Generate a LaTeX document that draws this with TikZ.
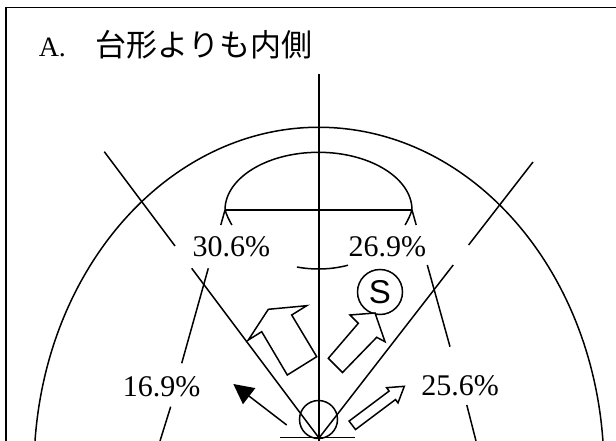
\documentclass[tikz,border=0pt]{standalone}
\usepackage{fontspec}
\setmainfont{Liberation Serif}
\newfontfamily\jpfont{Noto Sans CJK JP}
\newfontfamily\sansfont{Liberation Sans}
\usetikzlibrary{arrows.meta}
\begin{document}
\begin{tikzpicture}[x=1pt,y=-1pt,line width=1.5pt,
  pct/.style={font=\fontsize{30}{30}\selectfont, inner sep=0pt, anchor=base},
  blockarrow/.style={draw, line join=miter, fill=white}]
\useasboundingbox (0,0) rectangle (616,441);
\clip (0,0) rectangle (616,441);
% frame
\draw[line width=1.8pt] (6,445) -- (6,7.5) -- (620,7.5);
% title
\node[anchor=base west, inner sep=0pt, font=\fontsize{28}{28}\selectfont] (tA) at (38,56.7) {A.};
\node[anchor=base west, inner sep=0pt, font=\jpfont\fontsize{31}{31}\selectfont] (tJ) at (95,56.7) {台形よりも内側};
% coordinates
\coordinate (apex) at (319,438);
\coordinate (vtop) at (319,74);
\coordinate (vbot) at (319,445);
% centre line
\draw (vtop) -- (vbot);
% big ellipse
\draw (35,441) arc[start angle=184.85, end angle=355.15, x radius=285, y radius=342.7];
% dome
\coordinate (domeL) at (225,210);
\coordinate (domeR) at (412,210);
\draw (domeL) arc[start angle=180, end angle=360, x radius=93.5, y radius=57.7];
\draw (domeL) -- (domeR);
% lower (hidden) ellipse, visible pieces
\draw ([shift={(165.33:96.6 and 79)}]318.5,190) arc[start angle=165.33, end angle=153.7, x radius=96.6, y radius=79];
\draw ([shift={(14.67:96.6 and 79)}]318.5,190) arc[start angle=14.67, end angle=26.3, x radius=96.6, y radius=79];
\draw ([shift={(72.2:96.6 and 79)}]318.5,190) arc[start angle=72.2, end angle=102.9, x radius=96.6, y radius=79];
% outer label lines
\draw (domeL) -- (220.8,225);
\draw (208.3,268.3) -- (181.7,363.3);
\draw (170.7,406.7) -- (160,441);
\draw (domeR) -- (416.2,225);
\draw (427.3,265) -- (450,346.7);
\draw (466.8,405) -- (476,441);
% diagonals
\coordinate (dLtop) at (104.3,151.7);
\coordinate (dLa) at (175,246);
\coordinate (dLb) at (191.7,268.3);
\coordinate (dRtop) at (533,162);
\coordinate (dRa) at (468.6,245);
\coordinate (dRb) at (453.2,265);
\draw (dLtop) -- (dLa);
\draw (dLb) -- (apex);
\draw (dRtop) -- (dRa);
\draw (dRb) -- (apex);
% labels
\node[pct] (p306) at (231.3,256.7) {30.6\%};
\node[pct] (p269) at (387.3,256.7) {26.9\%};
\node[pct] (p169) at (161.7,396.7) {16.9\%};
\node[pct] (p256) at (460,395) {25.6\%};
% S circle
\node[draw, circle, minimum size=45pt, inner sep=0pt, font=\sansfont\fontsize{33}{33}\selectfont] (S) at (380,292) {S};
% head circle and base
\node[draw, circle, minimum size=38pt, inner sep=0pt] (head) at (318.5,419.5) {};
\draw (280,437.5) -- (355,437.5);
% block arrows
\draw[blockarrow] (248.3,340) -- (268.3,309.3) -- (306.7,305.7) -- (291.7,315) -- (316.7,356.7) -- (287.3,375) -- (261.7,331.7) -- cycle;
\draw[blockarrow] (328.3,358.3) -- (358.3,323.3) -- (350,315) -- (375,313) -- (385,341.7) -- (376.7,337.3) -- (342.5,372.5) -- cycle;
\draw[blockarrow] (349.1,421.1) -- (389.1,391.1) -- (386.6,387.7) -- (404.3,386.3) -- (398,402.9) -- (395.5,399.5) -- (355.5,429.5) -- cycle;
% black arrow
\coordinate (bkS) at (286.7,425);
\coordinate (bkE) at (233.3,384);
\draw[-{Triangle[length=20pt,width=20pt]}] (bkS) -- (bkE);
\end{tikzpicture}
\end{document}
